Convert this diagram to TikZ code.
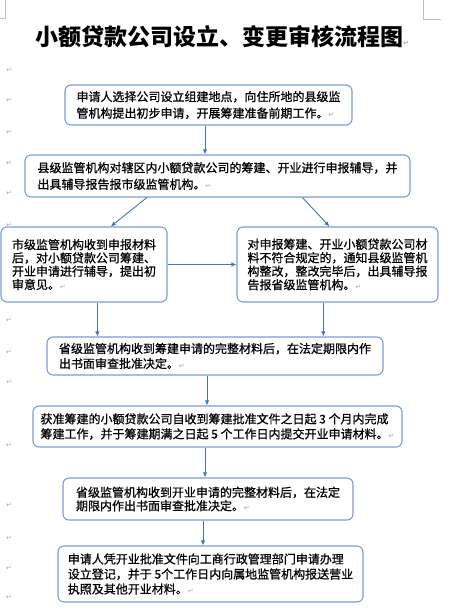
\documentclass[tikz,border=0pt]{standalone}
\usepackage{fontspec}
\newfontfamily\cjk[FakeBold=0.8]{Noto Sans CJK SC}
\newfontfamily\cjktitle{Noto Sans CJK SC}
\newfontfamily\retfont{DejaVu Sans}
\usepackage{tikz}
\usetikzlibrary{positioning,calc,arrows.meta}

\definecolor{boxline}{RGB}{122,155,216}
\definecolor{arrowline}{RGB}{68,114,196}
\newcommand{\retmark}{{\retfont\fontsize{7}{7}\selectfont\color{gray!70}↵}}

\tikzset{
    flowbox/.style={draw=boxline, line width=1.1pt, rounded corners=6pt,
        align=left, inner sep=0pt, font=\cjk\fontsize{12}{#1}\selectfont},
    flowbox/.default=16.5,
    flowarrow/.style={draw=arrowline, line width=0.9pt, -{Latex[length=5pt,width=4.5pt]}},
}

\begin{document}
\begin{tikzpicture}[x=1pt, y=-1pt]
    \useasboundingbox (0,0) rectangle (455,614);

    % page corner marks
    \draw[gray!50, line width=0.6pt] (5,0) -- (5,18) -- (0,18);
    \draw[gray!50, line width=0.6pt] (423,0) -- (423,19) -- (441,19);

    % paragraph marks in the margin
    \foreach \yy [count=\i] in {70,100,132,163,193,225,320,352,382,445,505,538,568,597}
        \node (ret\i) at (9,\yy) {\retmark};

    % Title
    \node (title) at (222,37) {\cjktitle\bfseries\fontsize{23}{23}\selectfont 小额贷款公司设立、变更审核流程图\retmark};

    % Boxes
    \node[flowbox, minimum width=287, minimum height=40] (b1) at (208.5,105)
        {申请人选择公司设立组建地点，向住所地的县级监\\管机构提出初步申请，开展筹建准备前期工作。\retmark};
    \node[flowbox, minimum width=385, minimum height=42] (b2) at (217.5,176)
        {县级监管机构对辖区内小额贷款公司的筹建、开业进行申报辅导，并\\出具辅导报告报市级监管机构。\retmark};
    \node[flowbox=13.3, minimum width=166, minimum height=75] (b3) at (84,264.5)
        {市级监管机构收到申报材料\\后，对小额贷款公司筹建、\\开业申请进行辅导，提出初\\审意见。\retmark};
    \node[flowbox=13.5, minimum width=201, minimum height=75] (b4) at (337.5,264.5)
        {对申报筹建、开业小额贷款公司材\\料不符合规定的，通知县级监管机\\构整改，整改完毕后，出具辅导报\\告报省级监管机构。\retmark};
    \node[flowbox=15, minimum width=336, minimum height=38] (b5) at (215,356)
        {省级监管机构收到筹建申请的完整材料后，在法定期限内作\\出书面审查批准决定。\retmark};
    \node[flowbox=15, minimum width=369, minimum height=41] (b6) at (217.5,426.5)
        {获准筹建的小额贷款公司自收到筹建批准文件之日起 3 个月内完成\\筹建工作，并于筹建期满之日起 5 个工作日内提交开业申请材料。\retmark};
    \node[flowbox=13.5, minimum width=290, minimum height=42] (b7) at (208,499)
        {省级监管机构收到开业申请的完整材料后，在法定\\期限内作出书面审查批准决定。\retmark};
    \node[flowbox=15, minimum width=305, minimum height=56] (b8) at (210.5,574)
        {申请人凭开业批准文件向工商行政管理部门申请办理\\设立登记，并于 5个工作日内向属地监管机构报送营业\\执照及其他开业材料。\retmark};

    % Connectors
    \draw[flowarrow] ([xshift=-3.5pt]b1.south) -- ([xshift=-3.5pt]b1.south |- b2.north);
    \draw[flowarrow] ($(b2.south west)!0.317!(b2.south east)$) -- ($(b3.north west)!0.66!(b3.north east)$);
    \draw[flowarrow] ($(b2.south west)!0.72!(b2.south east)$) -- ($(b4.north west)!0.46!(b4.north east)$);
    \draw[flowarrow] (b3.east) -- (b4.west);
    \draw[flowarrow] ($(b3.south west)!0.58!(b3.south east)$) coordinate (c3)
        -- (c3 |- b5.north);
    \draw[flowarrow] ($(b4.south west)!0.43!(b4.south east)$) coordinate (c4)
        -- (c4 |- b5.north);
    \draw[flowarrow] ([xshift=-8pt]b5.south) -- ([xshift=-8pt]b5.south |- b6.north);
    \draw[flowarrow] ([xshift=-12.5pt]b6.south) -- ([xshift=-12.5pt]b6.south |- b7.north);
    \draw[flowarrow] ([xshift=-5pt]b7.south) -- ([xshift=-5pt]b7.south |- b8.north);
\end{tikzpicture}
\end{document}
